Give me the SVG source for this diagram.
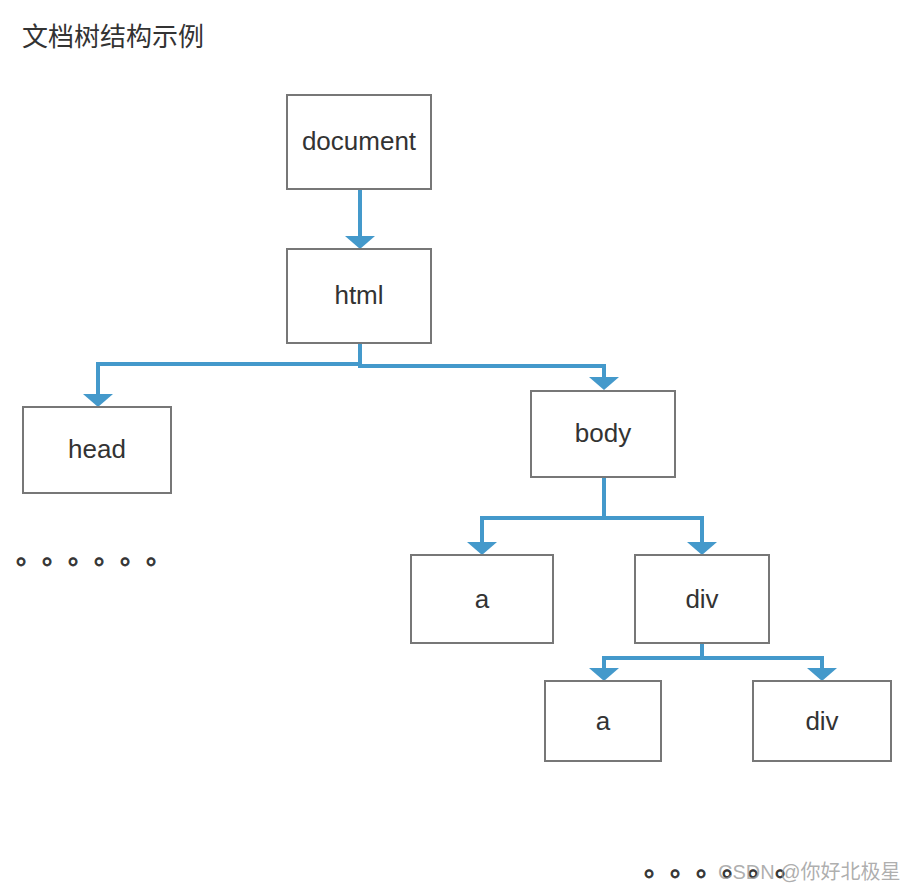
<svg xmlns="http://www.w3.org/2000/svg" width="914" height="892" viewBox="0 0 914 892">
<defs>
<style>
.box{fill:#fff;stroke:#777;stroke-width:2}
.lbl{font-family:"Liberation Sans",Arial,sans-serif;font-size:26px;fill:#333;text-anchor:middle}
.cn{font-family:"Noto Sans CJK SC",sans-serif;fill:#333}
.dots{stroke:#333;stroke-width:0.9}
.con{fill:none;stroke:#4499cb;stroke-width:4;stroke-linejoin:miter;marker-end:url(#arr)}
</style>
<marker id="arr" markerUnits="userSpaceOnUse" viewBox="0 -15 13 30" refX="0" refY="0" markerWidth="13" markerHeight="30" orient="auto">
<path d="M0,-15 L13,0 L0,15 Z" fill="#4499cb"/>
</marker>
</defs>
<rect width="914" height="892" fill="#fff"/>
<text class="cn" x="22" y="46" font-size="26">文档树结构示例</text>
<g id="connectors">
<path class="con" d="M360,189 V236"/>
<path class="con" d="M360,343 V364 H98 V394"/>
<path class="con" d="M360,343 V366 H604 V377"/>
<path class="con" d="M604,477 V518 H482 V542"/>
<path class="con" d="M604,477 V518 H702 V542"/>
<path class="con" d="M702,643 V658 H604 V668"/>
<path class="con" d="M702,643 V658 H822 V668"/>
</g>
<g id="document"><rect class="box" x="287" y="95" width="144" height="94"/><text class="lbl" x="359" y="150">document</text></g>
<g id="html"><rect class="box" x="287" y="249" width="144" height="94"/><text class="lbl" x="359" y="304">html</text></g>
<g id="head"><rect class="box" x="23" y="407" width="148" height="86"/><text class="lbl" x="97" y="458">head</text></g>
<g id="body"><rect class="box" x="531" y="391" width="144" height="86"/><text class="lbl" x="603" y="442">body</text></g>
<g id="a1"><rect class="box" x="411" y="555" width="142" height="88"/><text class="lbl" x="482" y="608">a</text></g>
<g id="div1"><rect class="box" x="635" y="555" width="134" height="88"/><text class="lbl" x="702" y="608">div</text></g>
<g id="a2"><rect class="box" x="545" y="681" width="116" height="80"/><text class="lbl" x="603" y="730">a</text></g>
<g id="div2"><rect class="box" x="753" y="681" width="138" height="80"/><text class="lbl" x="822" y="730">div</text></g>
<text class="cn dots" x="16 42 68 94 120 146" y="564" font-size="26">。。。。。。</text>
<text class="cn dots" x="644 670 696 722 748 775" y="876" font-size="26">。。。。。。</text>
<text x="718" y="879" font-family="'Liberation Sans',Arial,'Noto Sans CJK SC',sans-serif" font-size="20" fill="#999" fill-opacity="0.8">CSDN @你好北极星</text>
</svg>
